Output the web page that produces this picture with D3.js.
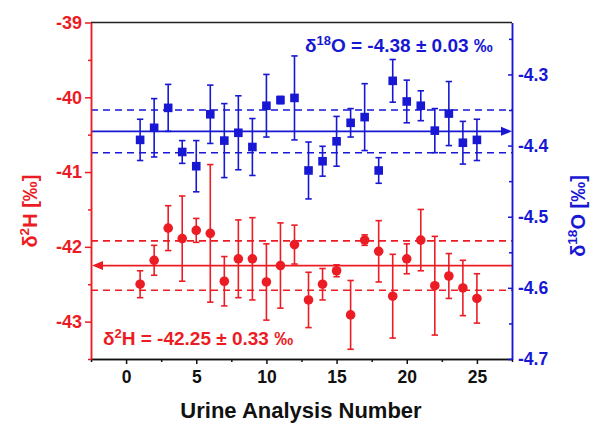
<!DOCTYPE html>
<html><head><meta charset="utf-8">
<script src="https://cdn.jsdelivr.net/npm/d3@7"></script>
<style>body{margin:0;background:#fff}svg{display:block}</style>
</head><body><svg id="c" width="600" height="428"></svg>
<script>
// ---- data ----
const analysisNumber = [1,2,3,4,5,6,7,8,9,10,11,12,13,14,15,16,17,18,19,20,21,22,23,24,25];
const d2H = [-42.50,-42.18,-41.75,-41.89,-41.78,-41.82,-42.46,-42.16,-42.16,-42.47,-42.25,-41.97,-42.71,-42.50,-42.32,-42.91,-41.91,-42.06,-42.66,-42.16,-41.91,-42.52,-42.39,-42.55,-42.69];
const d2HErr = [0.18,0.20,0.30,0.57,0.16,0.92,0.33,0.52,0.55,0.51,0.57,0.26,0.37,0.21,0.08,0.46,0.07,0.41,0.56,0.20,0.41,0.66,0.30,0.37,0.33];
const d18O = [-4.392,-4.375,-4.347,-4.409,-4.429,-4.356,-4.393,-4.382,-4.402,-4.344,-4.336,-4.333,-4.435,-4.422,-4.394,-4.368,-4.360,-4.435,-4.309,-4.338,-4.344,-4.379,-4.355,-4.396,-4.392];
const d18OErr = [0.029,0.041,0.033,0.016,0.036,0.041,0.052,0.052,0.040,0.044,0.005,0.059,0.040,0.021,0.035,0.020,0.047,0.018,0.030,0.030,0.021,0.031,0.045,0.030,0.029];
const d2HMean = -42.25, d2HSd = 0.33;
const d18OMean = -4.38, d18OSd = 0.03;
const xTicks = [0,5,10,15,20,25];
const xMinorTicks = [-2.5,2.5,7.5,12.5,17.5,22.5,27.5];
const yLTicks = [-43,-42,-41,-40,-39];
const yLMinorTicks = [-43.5,-42.5,-41.5,-40.5,-39.5];
const yRTicks = [-4.7,-4.6,-4.5,-4.4,-4.3];
const yRMinorTicks = [-4.65,-4.55,-4.45,-4.35,-4.25];

// ---- layout ----
const RED = "#ec1c24", BLUE = "#1717d4";
const FONT = "'Liberation Sans', Arial, sans-serif";
const L = 91, R = 512, T = 22.5, B = 359;
const svg = d3.select("#c");
const x = d3.scaleLinear().domain([-2.5, 27.5]).range([L, R]);
const yL = d3.scaleLinear().domain([-43.5, -39]).range([B, T]);
const yR = d3.scaleLinear().domain([-4.7, -4.227]).range([B, T]);

// frame top
svg.append("line").attr("x1", L).attr("x2", R).attr("y1", T).attr("y2", T)
  .attr("stroke", "#222").attr("stroke-width", 1.5);

// mean/sd lines
function hline(scale, v, color, dash) {
  svg.append("line").attr("x1", L).attr("x2", R).attr("y1", scale(v)).attr("y2", scale(v))
    .attr("stroke", color).attr("stroke-width", 1.6).attr("stroke-dasharray", dash ? "7,5" : null);
}
hline(yR, d18OMean + d18OSd, BLUE, true);
hline(yR, d18OMean - d18OSd, BLUE, true);
hline(yL, d2HMean + d2HSd, RED, true);
hline(yL, d2HMean - d2HSd, RED, true);
{
  const yy = yR(d18OMean);
  svg.append("line").attr("x1", L).attr("x2", R - 10).attr("y1", yy).attr("y2", yy)
    .attr("stroke", BLUE).attr("stroke-width", 1.8);
  svg.append("path").attr("d", `M${R-11},${yy-4.5}L${R},${yy}L${R-11},${yy+4.5}Z`).attr("fill", BLUE);
}
{
  const yy = yL(d2HMean);
  svg.append("line").attr("x1", L + 10).attr("x2", R).attr("y1", yy).attr("y2", yy)
    .attr("stroke", RED).attr("stroke-width", 1.8);
  svg.append("path").attr("d", `M${L+12},${yy-4.5}L${L+1},${yy}L${L+12},${yy+4.5}Z`).attr("fill", RED);
}

// error bars + markers
function errBars(vals, errs, scale, color) {
  const g = svg.append("g").attr("stroke", color).attr("stroke-width", 1.6);
  analysisNumber.forEach((n, i) => {
    const cx = x(n), y1 = scale(vals[i] + errs[i]), y2 = scale(vals[i] - errs[i]);
    g.append("line").attr("x1", cx).attr("x2", cx).attr("y1", y1).attr("y2", y2);
    g.append("line").attr("x1", cx - 3.2).attr("x2", cx + 3.2).attr("y1", y1).attr("y2", y1);
    g.append("line").attr("x1", cx - 3.2).attr("x2", cx + 3.2).attr("y1", y2).attr("y2", y2);
  });
}
errBars(d2H, d2HErr, yL, RED);
svg.append("g").selectAll("circle").data(analysisNumber).join("circle")
  .attr("cx", d => x(d)).attr("cy", (d, i) => yL(d2H[i])).attr("r", 4.8).attr("fill", RED);
errBars(d18O, d18OErr, yR, BLUE);
svg.append("g").selectAll("rect").data(analysisNumber).join("rect")
  .attr("x", d => x(d) - 4.3).attr("y", (d, i) => yR(d18O[i]) - 4.3)
  .attr("width", 8.6).attr("height", 8.6).attr("fill", BLUE);

// axes
function styleAxis(g, color, size) {
  g.select(".domain").attr("stroke", color).attr("stroke-width", 1.5);
  g.selectAll(".tick line").attr("stroke", color).attr("stroke-width", 1.5);
  g.selectAll("text").attr("fill", color).attr("font-family", FONT)
    .attr("font-weight", "bold").attr("font-size", size);
}
const bx = svg.append("g").attr("transform", `translate(0,${B})`)
  .call(d3.axisBottom(x).tickValues(xTicks).tickSize(5).tickSizeOuter(0).tickPadding(7).tickFormat(d3.format("d")));
styleAxis(bx, "#111", 17.5);
const bxm = svg.append("g").attr("transform", `translate(0,${B})`)
  .call(d3.axisBottom(x).tickValues(xMinorTicks).tickSize(3).tickSizeOuter(0).tickFormat(""));
styleAxis(bxm, "#111", 17);

const ly = svg.append("g").attr("transform", `translate(${L},0)`)
  .call(d3.axisLeft(yL).tickValues(yLTicks).tickSize(6).tickSizeOuter(0).tickPadding(3).tickFormat(d3.format("d")));
styleAxis(ly, RED, 18);
const lym = svg.append("g").attr("transform", `translate(${L},0)`)
  .call(d3.axisLeft(yL).tickValues(yLMinorTicks).tickSize(3).tickSizeOuter(0).tickFormat(""));
styleAxis(lym, RED, 17);

const ry = svg.append("g").attr("transform", `translate(${R},0)`)
  .call(d3.axisRight(yR).tickValues(yRTicks).tickSize(-4).tickSizeOuter(0).tickPadding(6).tickFormat(d3.format(".1f")));
styleAxis(ry, BLUE, 17.5);
const rym = svg.append("g").attr("transform", `translate(${R},0)`)
  .call(d3.axisRight(yR).tickValues(yRMinorTicks).tickSize(-3).tickSizeOuter(0).tickFormat(""));
styleAxis(rym, BLUE, 17);
svg.selectAll(".tick text").text(function(){ return d3.select(this).text().replace("\u2212", "-"); });

// titles
svg.append("text").attr("x", 301).attr("y", 418).attr("text-anchor", "middle")
  .attr("font-family", FONT).attr("font-weight", "bold").attr("font-size", 22).attr("fill", "#111")
  .text("Urine Analysis Number");

function titleWithSup(parent, pre, sup, post, color, size) {
  const t = parent.append("text").attr("font-family", FONT).attr("font-weight", "bold")
    .attr("font-size", size).attr("fill", color);
  t.append("tspan").text(pre);
  t.append("tspan").attr("font-size", size * 0.68).attr("dy", -size * 0.38).text(sup);
  t.append("tspan").attr("dy", size * 0.38).text(post);
  return t;
}
titleWithSup(svg, "δ", "2", "H [‰]", RED, 20)
  .attr("text-anchor", "middle").attr("transform", "translate(37,211) rotate(-90)");
titleWithSup(svg, "δ", "18", "O [‰]", BLUE, 20)
  .attr("text-anchor", "middle").attr("transform", "translate(585,216) rotate(-90)");

titleWithSup(svg, "δ", "18", "O = -4.38 ± 0.03 ‰", BLUE, 19).attr("x", 305).attr("y", 52);
titleWithSup(svg, "δ", "2", "H = -42.25 ± 0.33 ‰", RED, 19).attr("x", 103).attr("y", 345);
</script></body></html>
